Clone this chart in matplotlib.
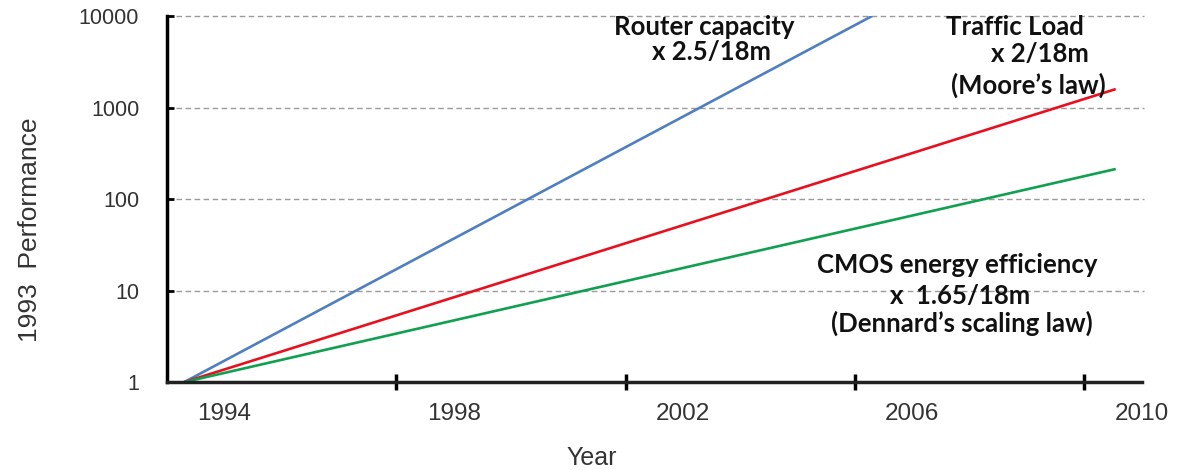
import matplotlib
matplotlib.use("Agg")
import matplotlib.pyplot as plt
from matplotlib.ticker import FixedLocator, NullLocator

# performance relative to 1993, straight lines on a log axis
router_years = [1993.3, 2005.3]
router_perf = [1, 10000]
traffic_years = [1993.3, 2009.55]
traffic_perf = [1, 1590]
cmos_years = [1993.3, 2009.55]
cmos_perf = [1, 213]

year_labels = [1994, 1998, 2002, 2006, 2010]
year_ticks = [1997, 2001, 2005, 2009]
perf_ticks = [1, 10, 100, 1000, 10000]

plt.rcParams['font.family'] = ['Liberation Sans', 'DejaVu Sans']

fig = plt.figure(figsize=(11.87, 4.70), dpi=100)
ax = fig.add_axes([0.1407, 0.187, 0.821, 0.779])

ax.plot(router_years, router_perf, color='#4f7fc0', lw=1.9, solid_capstyle='butt')
ax.plot(traffic_years, traffic_perf, color='#e8101e', lw=1.9, solid_capstyle='butt')
ax.plot(cmos_years, cmos_perf, color='#10a050', lw=1.9, solid_capstyle='butt')

ax.set_yscale('log')
ax.set_ylim(1, 10000)
ax.set_xlim(1993, 2010)

ax.yaxis.set_major_locator(FixedLocator(perf_ticks))
ax.yaxis.set_minor_locator(NullLocator())
ax.set_yticklabels([str(v) for v in perf_ticks])
ax.tick_params(axis='y', which='major', direction='in', length=5, width=2,
               pad=20, labelsize=15.5, labelcolor='#333333')

ax.xaxis.set_major_locator(FixedLocator(year_ticks))
ax.xaxis.set_minor_locator(FixedLocator(year_labels))
ax.xaxis.set_major_formatter(plt.NullFormatter())
ax.set_xticks(year_labels, [str(y) for y in year_labels], minor=True)
ax.tick_params(axis='x', which='major', direction='inout', length=12, width=2.5)
ax.tick_params(axis='x', which='minor', length=0, pad=15, labelsize=17.5,
               labelcolor='#333333')

for y in perf_ticks[1:]:
    ax.axhline(y, color='#9a9a9a', lw=1, ls=(0, (4, 2.5)), zorder=0, clip_on=False,
               xmax=1.003)

for side in ['top', 'right']:
    ax.spines[side].set_visible(False)
ax.spines['left'].set_linewidth(2.5)
ax.spines['bottom'].set_linewidth(2.5)
ax.spines['bottom'].set_color('#222222')

fig.text(30 / 1187, 1 - 230 / 470, '1993  Performance', rotation=90,
         ha='center', va='center', fontsize=19, color='#333333')
fig.text(592 / 1187, 1 - 458 / 470, 'Year', ha='center', va='center',
         fontsize=18, color='#333333')

note = dict(ha='center', va='center', fontsize=18.5, fontweight='bold',
            family=['Lato', 'DejaVu Sans'], color='#111111')
fig.text(704 / 1187, 1 - 27 / 470, 'Router capacity', **note)
fig.text(711 / 1187, 1 - 52 / 470, 'x 2.5/18m', **note)
fig.text(1015 / 1187, 1 - 27 / 470, 'Traffic Load', **note)
fig.text(1040 / 1187, 1 - 54 / 470, 'x 2/18m', **note)
fig.text(1028 / 1187, 1 - 85 / 470, '(Moore\u2019s law)', **note)
fig.text(957 / 1187, 1 - 265 / 470, 'CMOS energy efficiency', **note)
fig.text(960 / 1187, 1 - 296 / 470, 'x  1.65/18m', **note)
fig.text(962 / 1187, 1 - 323 / 470, '(Dennard\u2019s scaling law)', **note)

fig.savefig('out.png', dpi=100)
